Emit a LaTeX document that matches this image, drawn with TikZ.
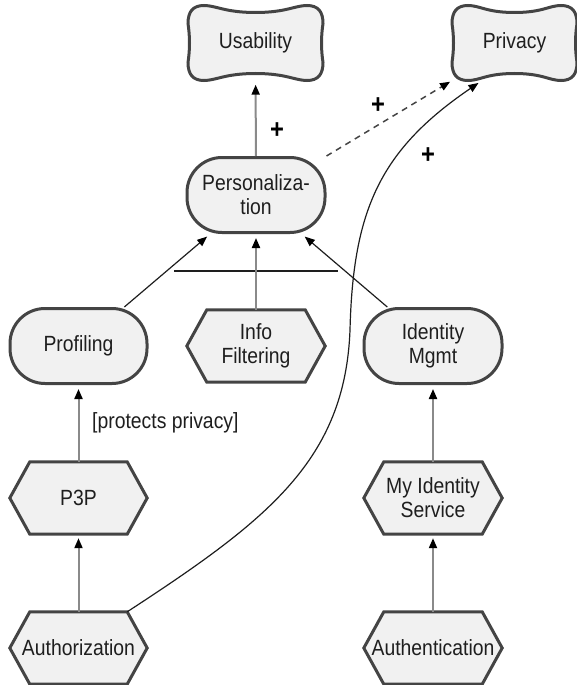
\documentclass[tikz,border=0pt]{standalone}
\usepackage{fontspec}
\setmainfont{Liberation Sans}[FakeStretch=0.88]
\usetikzlibrary{arrows.meta,calc,backgrounds}

\definecolor{outl}{HTML}{444444}
\definecolor{nodefill}{HTML}{F1F1F1}
\definecolor{linkgray}{HTML}{8A8A8A}
\definecolor{inkdark}{HTML}{1E1E1E}

% wavy outline of a softgoal, centred on the origin: #1 half width, #2 half height
\newcommand\sgoutline[2]{%
 (0,{-#2+7}) .. controls ({0.45*#1},{-#2+7}) and ({#1-28},{-#2}) .. ({#1-16},{-#2})
 .. controls ({#1-5},{-#2}) and ({#1},{-#2+6}) .. ({#1},{-#2+18})
 .. controls ({#1-2},{-6}) and ({#1-2},{6}) .. ({#1},{#2-18})
 .. controls ({#1},{#2-6}) and ({#1-5},{#2}) .. ({#1-16},{#2})
 .. controls ({#1-28},{#2}) and ({0.45*#1},{#2-7}) .. (0,{#2-7})
 .. controls ({-0.45*#1},{#2-7}) and ({-#1+28},{#2}) .. ({-#1+16},{#2})
 .. controls ({-#1+5},{#2}) and ({-#1},{#2-6}) .. ({-#1},{#2-18})
 .. controls ({-#1+2},{6}) and ({-#1+2},{-6}) .. ({-#1},{-#2+18})
 .. controls ({-#1},{-#2+6}) and ({-#1+5},{-#2}) .. ({-#1+16},{-#2})
 .. controls ({-#1+28},{-#2}) and ({-0.45*#1},{-#2+7}) .. (0,{-#2+7}) -- cycle}

\tikzset{
  lbl/.style={font=\fontsize{22}{24}\selectfont, text=inkdark, align=center, inner sep=0pt},
  softgoal/.style={lbl, rectangle, minimum width=135pt, minimum height=75pt},
  goal/.style={lbl, rectangle, rounded corners=35pt, draw=outl, line width=3pt,
               fill=nodefill, minimum width=138pt, minimum height=75pt},
  task/.style={lbl, rectangle, minimum width=138pt, minimum height=72pt},
  outline/.style={draw=outl, line width=3pt, fill=nodefill, line join=miter},
  tip/.style={-{Triangle[length=10pt,width=8pt,color=black]}, shorten >=4pt},
  glink/.style={tip, draw=linkgray, line width=2pt},
  blink/.style={tip, draw=inkdark, line width=1.2pt},
  dlink/.style={tip, draw=outl, line width=1.5pt, dash pattern=on 6pt off 5pt},
  plus/.style={font=\fontsize{27}{27}\selectfont\bfseries, text=black, inner sep=0pt},
}

\begin{document}
\begin{tikzpicture}[x=1pt, y=-1pt]
\useasboundingbox (0,0) rectangle (577,685);

% softgoals
\node[softgoal] (use)  at (255.5,43) {Usability};
\node[softgoal, minimum width=125pt] (priv) at (514.5,43) {Privacy};

% goals
\node[goal] (pers) at (256,195) {Personaliza-\\tion};
\node[goal, minimum width=137pt] (prof) at (78.5,346) {Profiling};
\node[goal] (idm)  at (433,346) {Identity\\Mgmt};

% tasks
\node[task] (info)  at (256,346) {Info\\Filtering};
\node[task, minimum width=137pt] (p3p)  at (78.5,498) {P3P};
\node[task] (myid)  at (433,498) {My Identity\\Service};
\node[task, minimum width=137pt] (auth) at (78.5,648) {Authorization};
\node[task] (authn) at (433,648) {Authentication};

\begin{scope}[on background layer]
  \draw[outline, shift={(use.center)}]  \sgoutline{67.5}{37.5};
  \draw[outline, shift={(priv.center)}] \sgoutline{62.5}{37.5};
  \foreach \n in {info,p3p,myid,auth,authn}
    \draw[outline] (\n.west) -- ($(\n.north west)+(20,0)$) -- ($(\n.north east)+(-20,0)$)
      -- (\n.east) -- ($(\n.south east)+(-20,0)$) -- ($(\n.south west)+(20,0)$) -- cycle;
\end{scope}

% contributions to the softgoals
\draw[glink] (pers) -- (use);
\node[plus] (p1) at (277,131) {+};
\draw[dlink, shorten >=2pt] (pers.north east) -- (priv.south west);
\node[plus] (p2) at (378,106) {+};
\coordinate (authtr) at ($(auth.north east)+(-20,0)$);
\coordinate (privin) at ($(priv.south west)+(30,0)$);
\draw[blink] (authtr) .. controls (268,520) and (345,460) .. (350,330)
  .. controls (353,210) and (380,150) .. (privin);
\node[plus] (p3) at (428,156) {+};

% and-decomposition of Personalization
\coordinate (andl) at (174,271);
\coordinate (andr) at (338,271);
\draw[draw=inkdark, line width=1.2pt] (andl) -- (andr);
\draw[blink] (prof) -- (pers);
\draw[glink] (info) -- (pers);
\draw[blink] (idm) -- (pers);

% means-ends links
\draw[glink] (p3p) -- (prof);
\node[lbl, anchor=west] (pp) at (92,423) {[protects privacy]};
\draw[glink] (auth) -- (p3p);
\draw[glink] (myid) -- (idm);
\draw[glink] (authn) -- (myid);
\end{tikzpicture}
\end{document}
